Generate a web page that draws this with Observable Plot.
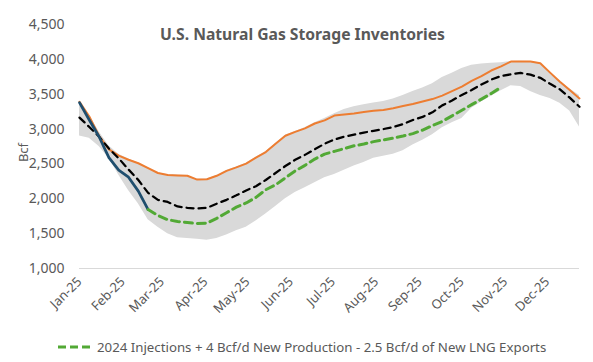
<!DOCTYPE html>
<html>
<head>
<meta charset="utf-8">
<script src="https://cdn.jsdelivr.net/npm/d3@7"></script>
<script src="https://cdn.jsdelivr.net/npm/@observablehq/plot@0.6"></script>
<style>
  html, body { margin: 0; padding: 0; background: #fff; }
  #wrap { position: relative; width: 593px; height: 362px; font-family: "Noto Sans", "Open Sans", sans-serif; }
  #legend { position: absolute; left: 0; top: 335px; width: 593px; height: 24px; display: flex; align-items: center; justify-content: flex-start; padding-left: 58px; box-sizing: border-box; font-size: 13.25px; color: #595959; }
  #legend svg { margin-right: 7px; }
</style>
</head>
<body>
<div id="wrap"><div id="chart"></div><div id="legend"></div></div>
<script>
// Weekly report dates (week ending Fridays of 2025)
const startDate = "2025-01-03";
const weekCount = 52;

// 5-year range (min / max), Bcf
const rangeLow = [2900,2870,2750,2580,2340,2120,1930,1700,1590,1500,1440,1430,1420,1405,1430,1480,1540,1590,1680,1780,1890,2000,2090,2160,2230,2300,2350,2410,2470,2520,2580,2610,2640,2690,2770,2840,2920,3020,3090,3150,3300,3390,3470,3550,3620,3610,3540,3480,3440,3370,3260,3030];
const rangeHigh = [3390,3200,2960,2760,2640,2570,2515,2445,2375,2345,2340,2335,2280,2285,2335,2405,2455,2510,2595,2675,2790,2910,2965,3020,3090,3150,3220,3280,3320,3350,3375,3395,3430,3480,3540,3590,3650,3740,3800,3870,3915,3935,3945,3950,3970,3972,3970,3948,3800,3690,3580,3480];
// 5-year average
const avg5yr = [3165,3030,2890,2720,2580,2420,2270,2085,1985,1955,1890,1870,1860,1870,1930,1985,2050,2120,2180,2270,2370,2470,2560,2630,2710,2790,2850,2890,2920,2950,2975,3000,3030,3070,3130,3175,3240,3340,3410,3490,3560,3640,3710,3760,3785,3805,3780,3735,3650,3570,3450,3320];
// Prior year (2024) storage
const priorYear = [3390,3180,2900,2710,2620,2560,2510,2440,2370,2340,2335,2330,2275,2280,2330,2400,2450,2505,2590,2670,2790,2905,2960,3010,3080,3125,3194,3210,3225,3245,3262,3275,3300,3330,3360,3395,3430,3480,3545,3610,3690,3760,3840,3900,3968,3970,3968,3945,3810,3680,3560,3440];
// 2025 actual (weeks 1-8)
const actual2025 = [3380,3130,2890,2590,2410,2310,2110,1845];
// Projection: 2024 injections + 4 Bcf/d new production - 2.5 Bcf/d new LNG exports (weeks 8-44)
const projection = [1845,1760,1700,1675,1660,1645,1650,1720,1800,1880,1940,2020,2130,2200,2300,2400,2480,2570,2640,2680,2720,2760,2785,2820,2845,2870,2900,2935,2985,3050,3110,3190,3270,3350,3430,3510,3600];
const projectionStart = 7;

const yTicks = [1000,1500,2000,2500,3000,3500,4000,4500];
const monthTicks = ["2025-01-03","2025-02-03","2025-03-03","2025-04-03","2025-05-03","2025-06-03","2025-07-03","2025-08-03","2025-09-03","2025-10-03","2025-11-03","2025-12-03"];
const titleText = "U.S. Natural Gas Storage Inventories";
const legendText = "2024 Injections + 4 Bcf/d New Production - 2.5 Bcf/d of New LNG Exports";

const t0 = new Date(startDate);
const dates = d3.range(weekCount).map(i => d3.utcDay.offset(t0, 7 * i));
const rows = dates.map((d, i) => ({date: d, lo: rangeLow[i], hi: rangeHigh[i], avg: avg5yr[i], prior: priorYear[i]}));
const actRows = actual2025.map((v, i) => ({date: dates[i], v}));
const projRows = projection.map((v, i) => ({date: dates[projectionStart + i], v}));

const txt = "#595959";
const chart = Plot.plot({
  width: 593,
  height: 334,
  marginLeft: 79,
  marginRight: 14,
  marginTop: 24,
  marginBottom: 66,
  style: {fontFamily: '"Noto Sans", "Open Sans", sans-serif', fontSize: "13px", color: txt, background: "#fff"},
  x: {type: "utc", domain: [dates[0], dates[weekCount - 1]]},
  y: {domain: [1000, 4500]},
  marks: [
    Plot.areaY(rows, {x: "date", y1: "lo", y2: "hi", fill: "#d9d9d9"}),
    Plot.ruleY([1000], {stroke: "#d9d9d9", strokeWidth: 1}),
    Plot.lineY(rows, {x: "date", y: "prior", stroke: "#ED7D31", strokeWidth: 2}),
    Plot.lineY(rows, {x: "date", y: "avg", stroke: "#000", strokeWidth: 2.25, strokeDasharray: "7,5"}),
    Plot.lineY(actRows, {x: "date", y: "v", stroke: "#1F4E6E", strokeWidth: 2.75}),
    Plot.lineY(projRows, {x: "date", y: "v", stroke: "#52A935", strokeWidth: 3, strokeDasharray: "8,5"}),
    Plot.axisY({ticks: yTicks, tickFormat: d3.format(","), tickSize: 0, tickPadding: 15, fontSize: 14, label: null}),
    Plot.text(["Bcf"], {frameAnchor: "left", textAnchor: "middle", dx: -56, dy: 6, rotate: -90, fontSize: 13, fill: txt}),
    Plot.axisX({ticks: monthTicks.map(s => new Date(s)), tickFormat: d3.utcFormat("%b-%y"), tickSize: 0, tickPadding: 11, tickRotate: -45, fontSize: 13, label: null}),
    Plot.text([titleText], {frameAnchor: "top", dx: -27, dy: 4, fontSize: 15.7, fontWeight: "bold", fill: txt})
  ]
});
document.getElementById("chart").appendChild(chart);

const leg = document.getElementById("legend");
const ns = "http://www.w3.org/2000/svg";
const ls = document.createElementNS(ns, "svg");
ls.setAttribute("width", 32); ls.setAttribute("height", 10);
const ln = document.createElementNS(ns, "line");
ln.setAttribute("x1", 0); ln.setAttribute("x2", 32); ln.setAttribute("y1", 5); ln.setAttribute("y2", 5);
ln.setAttribute("stroke", "#52A935"); ln.setAttribute("stroke-width", 3); ln.setAttribute("stroke-dasharray", "8,4");
ls.appendChild(ln);
leg.appendChild(ls);
const sp = document.createElement("span"); sp.textContent = legendText; leg.appendChild(sp);
</script>
</body>
</html>
